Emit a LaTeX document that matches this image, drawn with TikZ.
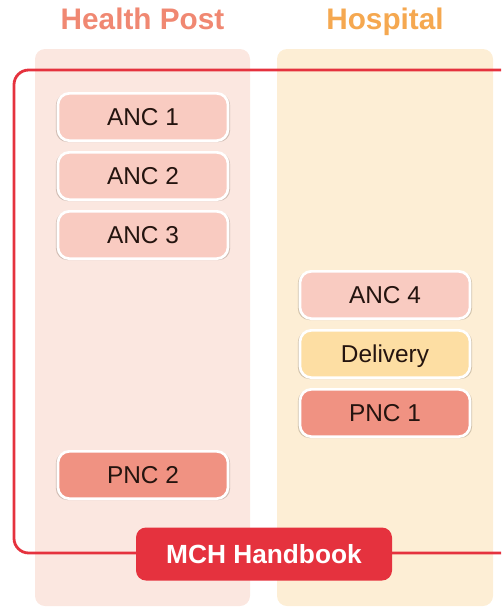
\documentclass[tikz,border=0pt]{standalone}
\usepackage{fontspec}
\setmainfont{Liberation Sans}
\usetikzlibrary{positioning, shadows}

\definecolor{postbg}{HTML}{FBE7E0}
\definecolor{hospbg}{HTML}{FDEED5}
\definecolor{postttl}{HTML}{F08872}
\definecolor{hospttl}{HTML}{F5A850}
\definecolor{ancfill}{HTML}{F9CBC1}
\definecolor{delfill}{HTML}{FDDEA3}
\definecolor{pncfill}{HTML}{F09282}
\definecolor{mchred}{HTML}{E5323E}
\definecolor{txtdark}{HTML}{24140F}

\begin{document}
\begin{tikzpicture}[x=0.75pt,y=-0.75pt,node distance=44.25pt,on grid]
  \tikzset{
    visit/.style={draw=white, line width=2pt, rounded corners=8.5pt,
      minimum width=127.5pt, minimum height=35.5pt, inner sep=0pt,
      text height=13.1pt, text depth=0pt, text=txtdark,
      font=\fontsize{18.3}{22}\selectfont,
      general shadow={fill=black!70!brown, opacity=0.22, shadow scale=1.025,
        shadow yshift=-0.6pt}},
    anc/.style={visit, fill=ancfill},
    dlv/.style={visit, fill=delfill},
    pnc/.style={visit, fill=pncfill},
    colttl/.style={anchor=base, font=\bfseries\fontsize{22.3}{26}\selectfont},
    column/.style={rounded corners=7.5pt},
    frame/.style={draw=mchred, line width=2.1pt, rounded corners=11pt},
    handbook/.style={fill=mchred, rounded corners=7.5pt, minimum width=192pt,
      minimum height=39.75pt, inner sep=0pt, text=white,
      font=\bfseries\fontsize{19.7}{24}\selectfont}
  }
  \useasboundingbox (0,0) rectangle (501,607);

  % columns
  \fill[column, postbg] (35,49) rectangle (250,606);
  \fill[column, hospbg] (277,49) rectangle (493,606);
  \node[colttl, text=postttl] (post) at (142.5,29) {Health Post};
  \node[colttl, text=hospttl] (hosp) at (385,29) {Hospital};

  % handbook frame
  \coordinate (frameNE) at (520,70);
  \coordinate (frameSE) at (520,553);
  \begin{scope}
    \clip (0,0) rectangle (501,607);
    \draw[frame] (frameNE) -| (14,553) -- (frameSE);
  \end{scope}

  % visits
  \node[anc] (anc1) at (143,117)     {ANC 1};
  \node[anc] (anc2) [below = of anc1] {ANC 2};
  \node[anc] (anc3) [below = of anc2] {ANC 3};
  \node[pnc] (pnc2) at (143,475)     {PNC 2};

  \node[anc] (anc4) at (385,295)     {ANC 4};
  \node[dlv] (dlv)  [below = of anc4] {Delivery};
  \node[pnc] (pnc1) [below = of dlv]  {PNC 1};

  \node[handbook] (mch) at (264,554) {MCH Handbook};
\end{tikzpicture}
\end{document}
